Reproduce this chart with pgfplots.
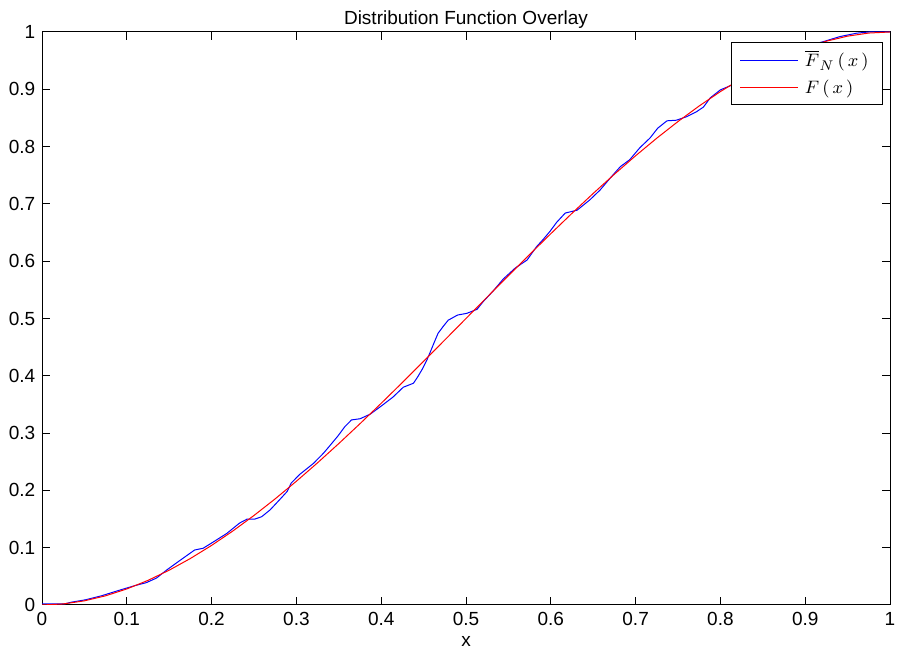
\documentclass[border=0pt]{standalone}
\usepackage{pgfplots}
\pgfplotsset{compat=1.18}
\usepackage{fontspec}
\setmainfont{Liberation Sans}
\begin{document}
\fontsize{9.5pt}{11pt}\selectfont
\begin{tikzpicture}
\begin{axis}[
  scale only axis,
  width=424pt, height=286.5pt,
  xmin=0, xmax=1, ymin=0, ymax=1,
  xtick={0,0.1,...,1.01}, ytick={0,0.1,...,1.01},
  xticklabels={0,0.1,0.2,0.3,0.4,0.5,0.6,0.7,0.8,0.9,1},
  yticklabels={0,0.1,0.2,0.3,0.4,0.5,0.6,0.7,0.8,0.9,1},
  tick align=inside, major tick length=4pt,
  tick style={black, line width=0.5pt},
  axis line style={black, line width=0.5pt},
  ticklabel style={font=\fontsize{9.5pt}{11pt}\selectfont},
  xticklabel style={yshift=-0.5pt},
  title={Distribution Function Overlay},
  title style={at={(axis description cs:0.5,1)}, anchor=base, yshift=-2.5pt, font=\fontsize{9.5pt}{11pt}\selectfont},
  xlabel={x},
  xlabel style={at={(axis description cs:0.5,0)}, anchor=base, yshift=-21pt, font=\fontsize{9.5pt}{11pt}\selectfont},
  legend style={at={(0.9918,0.9825)}, anchor=north east, draw=black, line width=0.5pt, fill=white,
    inner xsep=4pt, inner ysep=1.5pt, row sep=0pt, font=\fontsize{9.5pt}{11pt}\selectfont,
    nodes={inner xsep=3pt, inner ysep=2.5pt}},
  legend cell align=left,
]
\addplot[color=blue, line width=0.5pt, legend image code/.code={\draw[color=blue, line width=0.5pt] (0pt,0pt) -- (29pt,0pt);}] coordinates {
(0,0.002) (0.027,0.002) (0.035,0.005) (0.051,0.009) (0.07,0.016) (0.094,0.027) (0.11,0.034)
(0.123,0.039) (0.135,0.047) (0.147,0.061) (0.161,0.076) (0.18,0.096) (0.19,0.099) (0.202,0.11)
(0.218,0.125) (0.233,0.143) (0.242,0.15) (0.251,0.15) (0.259,0.154) (0.269,0.166) (0.281,0.185)
(0.289,0.198) (0.294,0.213) (0.304,0.228) (0.32,0.247) (0.332,0.265) (0.34,0.279) (0.349,0.295)
(0.357,0.311) (0.365,0.323) (0.375,0.325) (0.387,0.333) (0.399,0.346) (0.414,0.363) (0.426,0.38)
(0.438,0.387) (0.443,0.398) (0.449,0.413) (0.454,0.428) (0.458,0.442) (0.463,0.46) (0.467,0.474)
(0.473,0.486) (0.479,0.497) (0.49,0.506) (0.501,0.509) (0.513,0.516) (0.52,0.529) (0.532,0.548)
(0.544,0.569) (0.558,0.588) (0.572,0.602) (0.583,0.625) (0.591,0.638) (0.599,0.652) (0.607,0.668)
(0.617,0.684) (0.631,0.689) (0.646,0.707) (0.658,0.724) (0.67,0.745) (0.682,0.765) (0.693,0.777)
(0.705,0.798) (0.717,0.815) (0.726,0.832) (0.737,0.845) (0.748,0.846) (0.76,0.852) (0.772,0.861)
(0.78,0.869) (0.788,0.885) (0.8,0.899) (0.813,0.907) (0.825,0.914) (0.84,0.928) (0.86,0.945)
(0.88,0.962) (0.9,0.975) (0.921,0.983) (0.941,0.992) (0.961,0.998) (0.975,1) (1,1)
};
\addlegendentry{$\overline{F}_N\,(\,x\,)$}
\addplot[color=red, line width=0.5pt, legend image code/.code={\draw[color=red, line width=0.5pt] (0pt,0pt) -- (29pt,0pt);}] coordinates {
(0,0) (0.025,0.00184) (0.05,0.00725) (0.075,0.01603) (0.1,0.028) (0.125,0.04297) (0.15,0.06075)
(0.175,0.08116) (0.2,0.104) (0.225,0.12909) (0.25,0.15625) (0.275,0.18528) (0.3,0.216)
(0.325,0.24822) (0.35,0.28175) (0.375,0.31641) (0.4,0.352) (0.425,0.38834) (0.45,0.42525)
(0.475,0.46253) (0.5,0.5) (0.525,0.53747) (0.55,0.57475) (0.575,0.61166) (0.6,0.648)
(0.625,0.68359) (0.65,0.71825) (0.675,0.75178) (0.7,0.784) (0.725,0.81472) (0.75,0.84375)
(0.775,0.87091) (0.8,0.896) (0.825,0.91884) (0.85,0.93925) (0.875,0.95703) (0.9,0.972)
(0.925,0.98397) (0.95,0.99275) (0.975,0.99816) (1,1)
};
\addlegendentry{$F\,(\,x\,)$}
\coordinate (bl) at (rel axis cs:0,0);
\coordinate (tr) at (rel axis cs:1,1);
\end{axis}
\pgfresetboundingbox
\path[use as bounding box] ([xshift=-21pt,yshift=-22.5pt]bl) rectangle ([xshift=3.5pt,yshift=16pt]tr);
\end{tikzpicture}
\end{document}
